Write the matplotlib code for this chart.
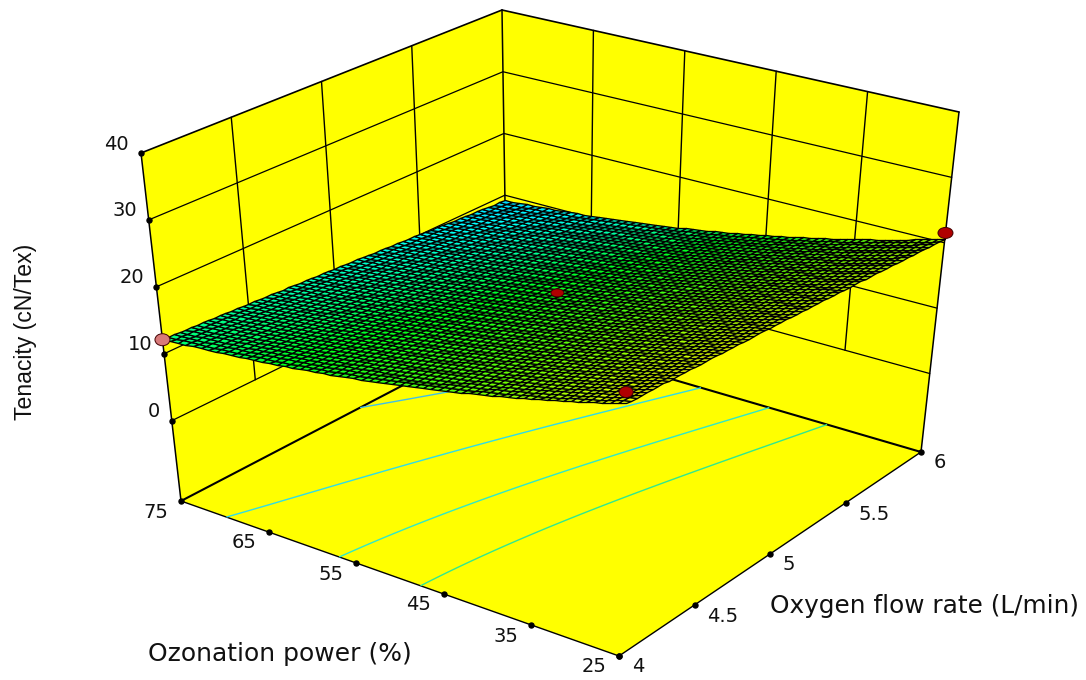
"""
Response surface of tenacity against oxygen flow rate and ozonation power,
drawn on a plain 2D axes. The box maps to the image by interpolating its
eight corners, which keeps the ticks evenly spaced along each edge.
"""

import numpy as np
import matplotlib
matplotlib.use('Agg')
import matplotlib.pyplot as plt
from matplotlib.colors import LinearSegmentedColormap, Normalize
from matplotlib.patches import Ellipse, Polygon

# --- data ---
oxygen_ticks = [4, 4.5, 5, 5.5, 6]
oxygen_labels = ['4', '4.5', '5', '5.5', '6']
ozone_ticks = [75, 65, 55, 45, 35, 25]
ozone_labels = ['75', '65', '55', '45', '35', '25']
tenacity_ticks = [0, 10, 20, 30, 40]
tenacity_labels = ['0', '10', '20', '30', '40']

# surface heights: one row per oxygen value, one column per ozone value
surface_oxygen = [4, 5, 6]
surface_ozone = [25, 50, 75]
surface_tenacity = [[23.6, 16.2, 12.2],
                    [22.4, 15.2, 10.9],
                    [20.6, 13.1, 9.2]]
contour_levels = [10.75, 12.75, 14.75, 16.75]
contour_colors = ['#40c0e8', '#30dce8', '#30e8c8', '#30e890']

# design points
point_oxygen = [4, 6, 4, 5]
point_ozone = [75, 25, 25, 50]
point_tenacity = [12.1, 21.5, 25.2, 17.0]
point_colors = ['#d87a7a', '#b00000', '#b00000', '#b00000']

FLOOR = -12.0
TOP = 40.0

# image position of the box corners: [oxygen 4/6][ozone 25/75][floor/top]
box_corners = np.array([[[[619, 656], [629, 287]], [[181, 501], [141, 153]]],
                        [[[921, 452], [959, 112]], [[507, 331], [502, 10]]]], dtype=float)


def project(oxygen, ozone, tenacity):
    a = (np.asarray(oxygen, float) - 4) / 2
    b = (np.asarray(ozone, float) - 25) / 50
    c = (np.asarray(tenacity, float) - FLOOR) / (TOP - FLOOR)
    a, b, c = np.broadcast_arrays(a, b, c)
    out = 0
    for i, wa in enumerate((1 - a, a)):
        for j, wb in enumerate((1 - b, b)):
            for k, wc in enumerate((1 - c, c)):
                out = out + (wa * wb * wc)[..., None] * box_corners[i, j, k]
    return out[..., 0], out[..., 1]


def refine(grid_a, grid_b, table, n=61):
    """Quadratic mesh through the table, for the fine wireframe."""
    a = np.linspace(grid_a[0], grid_a[-1], n)
    b = np.linspace(grid_b[0], grid_b[-1], n)

    def weights(nodes, t):
        w = np.ones((len(t), len(nodes)))
        for i, ni in enumerate(nodes):
            for j, nj in enumerate(nodes):
                if i != j:
                    w[:, i] *= (t - nj) / (ni - nj)
        return w

    return a, b, weights(grid_a, a) @ np.array(table) @ weights(grid_b, b).T


fig = plt.figure(figsize=(10.86, 6.8), dpi=100)
ax = fig.add_axes([0, 0, 1, 1])
ax.set_xlim(0, 1086)
ax.set_ylim(680, 0)
ax.axis('off')

YELLOW = '#ffff00'


def face(oxygen, ozone, tenacity):
    ax.add_patch(Polygon(np.column_stack(project(oxygen, ozone, tenacity)),
                         closed=True, facecolor=YELLOW, edgecolor='none', zorder=1))


def line(oxygen, ozone, tenacity, lw=1.0):
    x, y = project(oxygen, ozone, tenacity)
    ax.plot(x, y, color='black', lw=lw, solid_capstyle='round', zorder=2)


# walls and floor
face([4, 6, 6, 4], [75, 75, 75, 75], [FLOOR, FLOOR, TOP, TOP])
face([6, 6, 6, 6], [75, 25, 25, 75], [FLOOR, FLOOR, TOP, TOP])
face([4, 6, 6, 4], [25, 25, 75, 75], [FLOOR, FLOOR, FLOOR, FLOOR])

# grid on the two back walls, only from 0 up
for t in tenacity_ticks:
    lw = 1.2 if t == TOP else 0.9
    line([4, 6], [75, 75], [t, t], lw)
    line([6, 6], [75, 25], [t, t], lw)
for o in oxygen_ticks[1:-1]:
    line([o, o], [75, 75], [0, TOP], 1.0)
for o in ozone_ticks[1:-1]:
    line([6, 6], [o, o], [0, TOP], 1.0)
line([6, 6], [75, 75], [0, TOP], 1.1)

# box outline
line([4, 4], [75, 75], [FLOOR, TOP], 1.1)
line([6, 6], [25, 25], [FLOOR, TOP], 1.1)
line([4, 6], [75, 75], [FLOOR, FLOOR], 1.5)
line([6, 6], [75, 25], [FLOOR, FLOOR], 1.5)
line([4, 4], [75, 25], [FLOOR, FLOOR], 1.0)
line([4, 6], [25, 25], [FLOOR, FLOOR], 1.0)

# tick dots
zx, zy = project(4, 75, tenacity_ticks)
ax.plot(zx, zy, 'o', color='black', ms=3.6, zorder=3)
ox, oy = project(oxygen_ticks, 25, FLOOR)
ax.plot(ox, oy, 'o', color='black', ms=3.6, zorder=3)
px_, py_ = project(4, ozone_ticks, FLOOR)
ax.plot(px_, py_, 'o', color='black', ms=3.6, zorder=3)

# colours run blue - cyan - green - yellow with height
vmin, vmax = 8.0, 24.0
surface_cmap = LinearSegmentedColormap.from_list(
    'surface', [(0.0, '#00a0ff'), (0.12, '#00ffff'), (0.36, '#00ff20'),
                (0.70, '#80ff00'), (1.0, '#ffff00')])
norm = Normalize(vmin, vmax)

mesh_oxygen, mesh_ozone, mesh_z = refine(surface_oxygen, surface_ozone, surface_tenacity)
OX, OZ = np.meshgrid(mesh_oxygen, mesh_ozone, indexing='ij')

# contours on the floor
floor_x, floor_y = project(OX, OZ, FLOOR)
ax.contour(floor_x, floor_y, mesh_z, levels=contour_levels, colors=contour_colors,
           linewidths=1.0, zorder=2)

# surface with black wireframe
surf_x, surf_y = project(OX, OZ, mesh_z)
cell_z = (mesh_z[:-1, :-1] + mesh_z[1:, 1:] + mesh_z[:-1, 1:] + mesh_z[1:, :-1]) / 4
ax.pcolormesh(surf_x, surf_y, cell_z, cmap=surface_cmap, norm=norm, shading='flat',
              edgecolors='black', linewidth=0.95, antialiased=True, zorder=4)

# design points
mark_x, mark_y = project(point_oxygen, point_ozone, point_tenacity)
sizes = [(15, 12), (15, 11), (14, 11), (13, 8)]
for x, y, c, (w, h) in zip(mark_x, mark_y, point_colors, sizes):
    ax.add_patch(Ellipse((x, y), w, h, facecolor=c, edgecolor='#400000', lw=0.7, zorder=5))

# tick labels
LABEL = dict(color='#111111', fontsize=14, family='DejaVu Sans', va='center')
for x, y, s in zip(zx, zy, tenacity_labels):
    ax.text(x - 12, y - 9, s, ha='right', **LABEL)
for x, y, s in zip(px_, py_, ozone_labels):
    ax.text(x - 25, y + 11, s, ha='center', **LABEL)
for x, y, s in zip(ox, oy, oxygen_labels):
    ax.text(x + 13, y + 11, s, ha='left', **LABEL)

# axis labels
ax.text(280, 654, 'Ozonation power (%)', ha='center', va='center', color='#111111',
        fontsize=18, family='DejaVu Sans')
ax.text(925, 606, 'Oxygen flow rate (L/min)', ha='center', va='center', color='#111111',
        fontsize=17.8, family='DejaVu Sans')
ax.text(26, 332, 'Tenacity (cN/Tex)', rotation=90, ha='center', va='center', color='#111111',
        fontsize=16.6, family='Liberation Sans')

fig.savefig('out.png', dpi=100)
